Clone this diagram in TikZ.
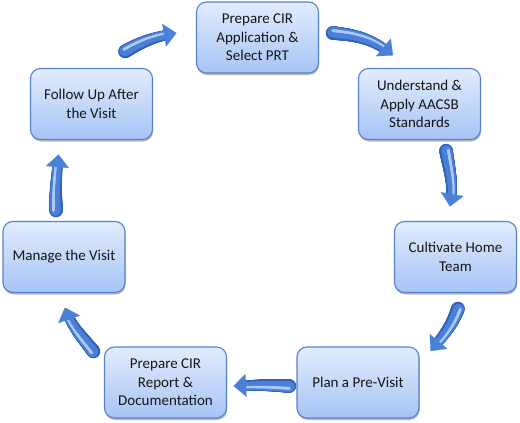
\documentclass[tikz,border=0pt]{standalone}
\usepackage{fontspec}
\setmainfont{Carlito}
\usetikzlibrary{calc,shadows,arrows.meta,decorations.markings}
\definecolor{boxtop}{RGB}{226,236,253}
\definecolor{boxbot}{RGB}{166,196,245}
\definecolor{boxline}{RGB}{86,130,202}
\definecolor{arrdark}{RGB}{48,98,188}
\definecolor{arrmid}{RGB}{74,128,216}
\definecolor{arrlight}{RGB}{172,202,245}
\definecolor{txt}{RGB}{22,22,22}
\tikzset{
  stepbox/.style={draw=boxline, line width=1.1pt, rounded corners=10pt,
    top color=boxtop, bottom color=boxbot,
    minimum width=122pt, minimum height=71pt, inner sep=0pt,
    align=center, text=txt, font=\fontsize{15}{18.5}\selectfont,
    drop shadow={shadow xshift=0.6pt, shadow yshift=-2pt, opacity=0.28, fill=black}},
  bodyouter/.style={decoration={markings,
    mark=between positions 0 and -9pt step 0.4pt with {%
      \pgfmathsetmacro\arrR{6.8-2.2*\pgfkeysvalueof{/pgf/decoration/mark info/distance from start}/\pgfdecoratedpathlength}%
      \fill[arrdark] (0pt,0pt) circle (\arrR pt);}}, decorate},
  bodyinner/.style={decoration={markings,
    mark=between positions 0 and -9pt step 0.4pt with {%
      \pgfmathsetmacro\arrR{6.8-2.2*\pgfkeysvalueof{/pgf/decoration/mark info/distance from start}/\pgfdecoratedpathlength}%
      \fill[arrmid] (0pt,0.1*\arrR pt) circle (0.78*\arrR pt);}}, decorate},
  bodyhigh/.style={decoration={markings,
    mark=between positions 0 and -9pt step 0.4pt with {%
      \pgfmathsetmacro\arrR{6.8-2.2*\pgfkeysvalueof{/pgf/decoration/mark info/distance from start}/\pgfdecoratedpathlength}%
      \fill[arrlight] (0pt,0.35*\arrR pt) circle (0.22*\arrR pt);}}, decorate},
  blockarrow/.style={postaction={bodyouter}, postaction={bodyinner},
    postaction={bodyhigh},
    postaction={draw=arrmid, line width=0.1pt, -{Triangle[width=23pt,length=12.5pt]}}}
}
\begin{document}
\begin{tikzpicture}[x=1pt,y=-1pt]
\useasboundingbox (0,0) rectangle (520,423);
\node[stepbox] (top) at (257.5,37.5) {Prepare CIR\\Application \&\\Select PRT};
\node[stepbox] (und) at (419.5,104) {Understand \&\\Apply AACSB\\Standards};
\node[stepbox] (cult) at (455.5,257) {Cultivate Home\\Team};
\node[stepbox] (plan) at (358,382.5) {Plan a Pre-Visit};
\node[stepbox] (rep) at (165.5,382.5) {Prepare CIR\\Report \&\\Documentation};
\node[stepbox] (man) at (64,257) {Manage the Visit};
\node[stepbox] (fol) at (91.5,104) {Follow Up After\\the Visit};
\path[blockarrow] ($(top.east)+(13.5,-4.5)$) to[out=-5,in=140] ($(und.north)+(-26.5,-12.5)$);
\path[blockarrow] ($(und.south)+(26.5,10.5)$) to[out=280,in=80] ($(cult.north)+(-5.5,-14.5)$);
\path[blockarrow] ($(cult.south)+(2.5,15.5)$) to[out=250,in=50] ($(plan.east)+(11,-31.5)$);
\path[blockarrow] ($(plan.west)+(-7,3.5)$) to[out=177,in=3] ($(rep.east)+(6.5,3.5)$);
\path[blockarrow] ($(rep.north west)+(-10.5,5)$) to[out=128,in=289] ($(man.south)+(1,14.5)$);
\path[blockarrow] ($(man.north)+(-8,-10.5)$) to[out=92,in=265] ($(fol.south)+(-33,14.5)$);
\path[blockarrow] ($(fol.north)+(33.5,-16.5)$) to[out=30,in=190] ($(top.west)+(-19.5,-4.5)$);
\end{tikzpicture}
\end{document}
